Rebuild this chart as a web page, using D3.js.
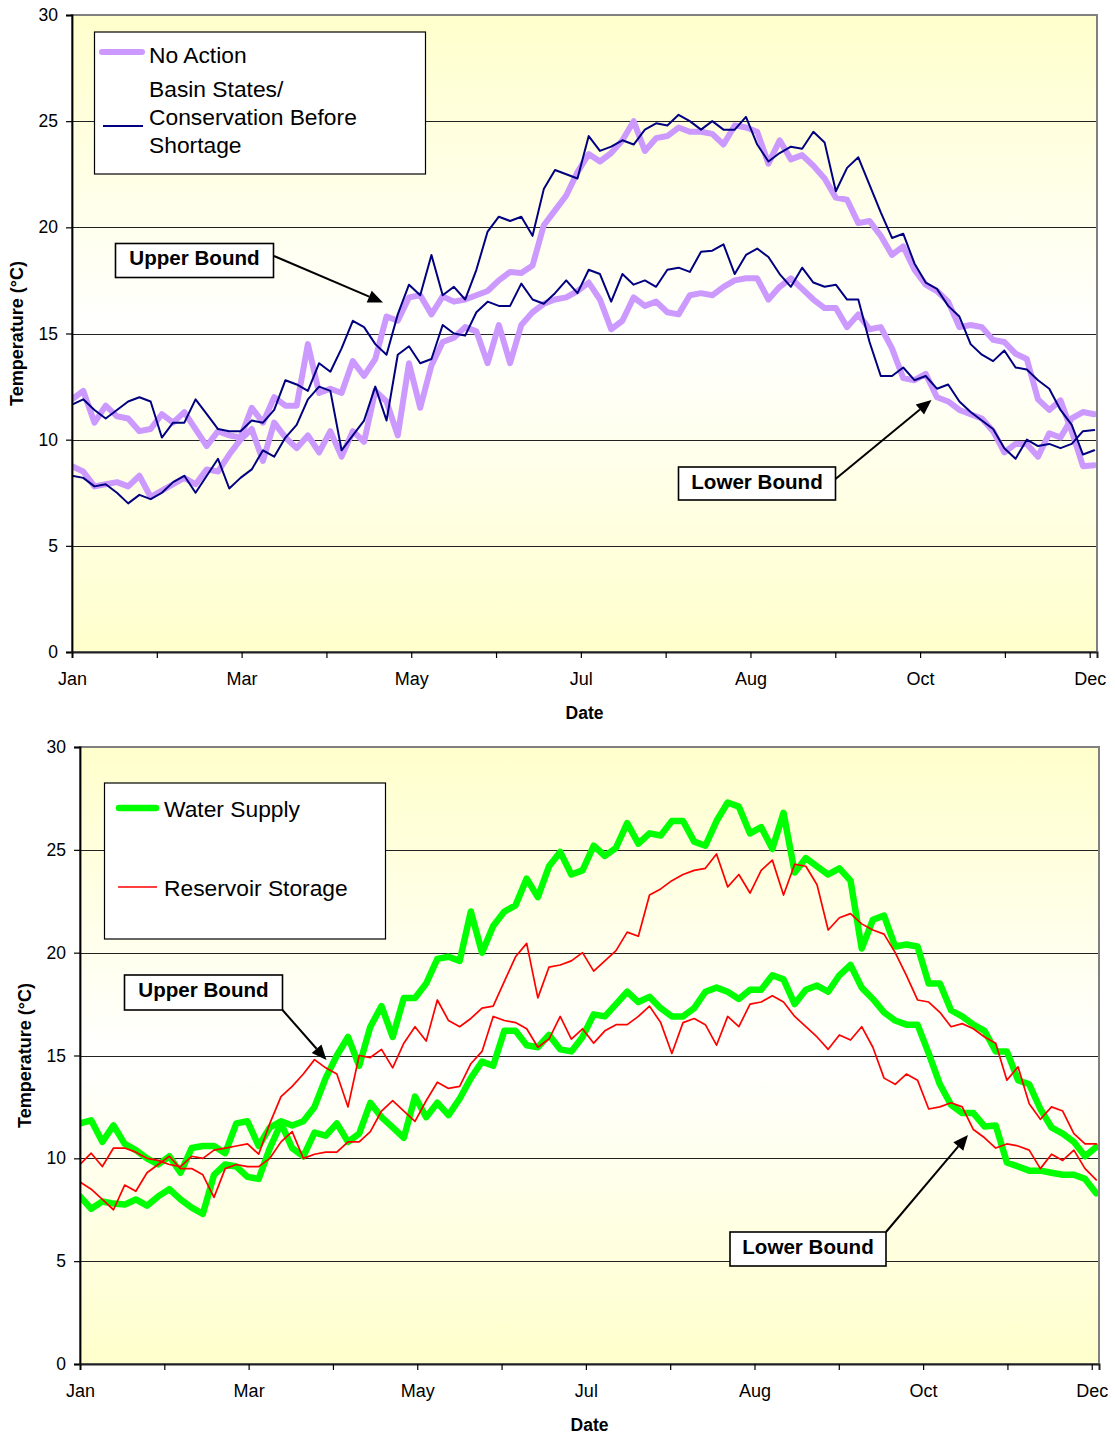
<!DOCTYPE html>
<html><head><meta charset="utf-8">
<script src="https://cdn.jsdelivr.net/npm/d3@7"></script>
<style>
body{margin:0;background:#fff;}
svg{display:block;font-family:"Liberation Sans",Arial,Helvetica,sans-serif;}
</style></head><body>
<svg id="chart" width="1115" height="1435"></svg>
<script>
// ---------------- DATA ----------------
const sampleDays = [0,4,8,12,16,20,24,28,32,36,40,44,48,52,56,60,64,68,72,76,80,84,88,92,96,100,104,108,112,116,120,124,128,132,136,140,144,148,152,156,160,164,168,172,176,180,184,188,192,196,200,204,208,212,216,220,224,228,232,236,240,244,248,252,256,260,264,268,272,276,280,284,288,292,296,300,304,308,312,316,320,324,328,332,336,340,344,348,352,356,360,364];
const xTickLabels = ["Jan","","Mar","","May","","Jul","","Aug","","Oct","","Dec"];
const yTicks = [0,5,10,15,20,25,30];

// Top panel: No Action (upper / lower bound)
const noActionUpper = [11.9,12.3,10.8,11.6,11.1,11.0,10.4,10.5,11.2,10.8,
 11.3,10.5,9.7,10.4,10.2,10.1,11.5,10.8,12.0,11.6,
 11.6,14.5,12.2,12.4,12.2,13.7,13.0,13.8,15.8,15.6,
 16.7,16.8,15.9,16.75,16.5,16.6,16.8,17.0,17.5,17.9,
 17.85,18.2,20.1,20.8,21.5,22.6,23.45,23.1,23.5,24.1,
 25.0,23.6,24.2,24.3,24.7,24.5,24.5,24.4,23.9,24.8,
 24.7,24.5,23.0,24.1,23.2,23.4,22.9,22.3,21.4,21.3,
 20.2,20.3,19.6,18.7,19.1,18.0,17.3,17.0,16.5,15.3,
 15.4,15.3,14.7,14.6,14.05,13.8,11.9,11.4,11.85,10.4,
 8.75,8.8];
const noActionLower = [8.75,8.5,7.8,7.9,8.0,7.8,8.3,7.3,7.6,7.9,
 8.2,7.9,8.6,8.5,9.3,10.0,10.5,9.0,10.8,10.1,
 9.6,10.2,9.4,10.4,9.2,10.4,9.9,12.3,11.8,10.2,
 13.6,11.5,13.5,14.6,14.8,15.3,15.1,13.6,15.4,13.6,
 15.4,16.0,16.4,16.6,16.7,17.0,17.4,16.6,15.2,15.6,
 16.7,16.3,16.5,16.0,15.9,16.8,16.9,16.8,17.2,17.5,
 17.6,17.6,16.6,17.2,17.6,17.1,16.6,16.2,16.2,15.3,
 15.9,15.2,15.3,14.3,12.9,12.8,13.1,12.0,11.8,11.4,
 11.2,11.0,10.4,9.4,9.8,9.8,9.2,10.3,10.1,11.0,
 11.3,11.2];
// Top panel: Basin States / Conservation Before Shortage
const basinStatesUpper = [11.65,11.9,11.4,11.0,11.4,11.8,12.0,11.8,10.1,10.8,
 10.8,11.9,11.2,10.5,10.4,10.4,10.9,10.8,11.4,12.8,
 12.6,12.3,13.6,13.2,14.3,15.6,15.3,14.5,14.0,15.9,
 17.3,16.8,18.7,16.8,17.2,16.6,18.0,19.8,20.5,20.3,
 20.5,19.6,21.8,22.7,22.5,22.3,24.3,23.6,23.8,24.1,
 23.9,24.6,24.9,24.8,25.3,25.0,24.6,25.0,24.6,24.6,
 25.2,23.9,23.1,23.5,23.8,23.7,24.5,24.0,21.7,22.8,
 23.3,22.0,20.7,19.5,19.7,18.3,17.4,17.1,16.3,15.8,
 14.5,14.0,13.7,14.2,13.4,13.3,12.8,12.4,11.4,10.7,
 9.3,9.5];
const basinStatesLower = [8.3,8.2,7.8,7.9,7.5,7.0,7.4,7.2,7.5,8.0,
 8.3,7.5,8.3,9.1,7.7,8.2,8.6,9.5,9.2,10.1,
 10.7,11.9,12.5,12.3,9.5,10.2,10.9,12.5,10.9,14.0,
 14.4,13.6,13.8,15.4,15.0,14.9,16.0,16.5,16.3,16.3,
 17.35,16.6,16.4,16.9,17.5,16.9,18.0,17.8,16.5,17.8,
 17.3,17.5,17.2,18.0,18.1,17.9,18.85,18.9,19.2,17.8,
 18.7,19.0,18.6,17.8,17.2,18.1,17.4,17.2,17.3,16.6,
 16.6,14.6,13.0,13.0,13.4,12.8,13.0,12.4,12.6,11.8,
 11.3,10.9,10.5,9.6,9.1,10.0,9.7,9.8,9.6,9.8,
 10.4,10.45];
// Bottom panel: Water Supply
const waterSupplyUpper = [11.7,11.85,10.8,11.6,10.7,10.4,10.0,9.7,10.1,9.3,
 10.5,10.6,10.6,10.25,11.7,11.8,10.6,11.5,11.8,11.6,
 11.8,12.5,13.9,15.0,15.9,14.5,16.4,17.4,15.9,17.8,
 17.8,18.5,19.7,19.8,19.6,22.0,20.0,21.3,22.0,22.3,
 23.6,22.7,24.2,24.9,23.8,24.0,25.2,24.7,25.1,26.3,
 25.3,25.8,25.7,26.4,26.4,25.4,25.2,26.4,27.3,27.1,
 25.8,26.1,25.05,26.8,23.9,24.6,24.2,23.8,24.1,23.5,
 20.2,21.6,21.8,20.3,20.4,20.3,18.5,18.5,17.2,16.9,
 16.5,16.2,15.2,15.2,13.8,13.6,12.4,11.5,11.2,10.8,
 10.1,10.55];
const waterSupplyLower = [8.15,7.55,7.9,7.8,7.75,8.0,7.7,8.15,8.5,8.0,
 7.6,7.3,9.2,9.7,9.6,9.1,9.0,10.5,11.7,10.5,
 10.1,11.25,11.1,11.7,10.8,11.2,12.7,12.0,11.5,11.0,
 13.0,12.0,12.7,12.1,12.9,13.9,14.7,14.5,16.2,16.2,
 15.5,15.4,16.0,15.3,15.2,15.9,17.0,16.9,17.5,18.1,
 17.6,17.85,17.3,16.9,16.9,17.3,18.1,18.3,18.1,17.75,
 18.2,18.2,18.9,18.7,17.5,18.2,18.4,18.1,18.9,19.4,
 18.3,17.75,17.1,16.7,16.5,16.5,15.1,13.6,12.6,12.2,
 12.2,11.55,11.6,9.8,9.6,9.4,9.4,9.3,9.2,9.2,
 9.0,8.3];
// Bottom panel: Reservoir Storage
const reservoirUpper = [9.7,10.25,9.6,10.5,10.5,10.3,10.0,9.9,9.7,9.6,
 10.1,10.0,10.4,10.5,10.6,10.7,10.2,11.7,13.0,13.5,
 14.1,14.8,14.4,14.1,12.5,15.0,14.9,15.3,14.4,15.6,
 16.4,15.7,17.7,16.7,16.4,16.8,17.3,17.4,18.6,19.8,
 20.45,17.8,19.3,19.4,19.6,20.0,19.1,19.6,20.1,21.0,
 20.8,22.8,23.1,23.5,23.8,24.0,24.1,24.8,23.2,23.8,
 22.9,24.0,24.5,22.8,24.3,24.2,23.3,21.1,21.7,21.9,
 21.4,21.1,20.9,20.0,18.9,17.7,17.6,17.1,16.4,16.55,
 16.3,15.9,15.6,13.8,14.45,12.65,11.9,12.5,12.3,11.2,
 10.7,10.7];
const reservoirLower = [8.85,8.5,8.0,7.5,8.7,8.4,9.3,9.7,10.1,9.5,
 9.5,9.2,8.1,9.5,9.7,9.6,9.6,10.0,10.8,11.3,
 10.0,10.2,10.3,10.3,10.8,10.8,11.3,12.3,12.8,12.3,
 11.8,12.8,13.7,13.4,13.5,14.6,15.2,16.9,16.7,16.6,
 16.3,15.4,15.8,16.9,15.8,16.3,15.6,16.2,16.5,16.5,
 16.9,17.4,16.6,15.1,16.6,16.8,16.5,15.5,16.9,16.4,
 17.5,17.6,17.9,17.6,16.9,16.4,15.9,15.3,16.0,15.75,
 16.4,15.4,13.9,13.6,14.1,13.8,12.4,12.5,12.7,12.5,
 11.4,11.0,10.5,10.7,10.6,10.4,9.5,10.2,9.9,10.4,
 9.5,8.95];

// ---------------- LAYOUT ----------------
const svg = d3.select("#chart");
const FONT = '"Liberation Sans",Arial,Helvetica,sans-serif';
const defs = svg.append("defs");
const grad = defs.append("linearGradient").attr("id","bgGrad")
  .attr("x1",0).attr("y1",0).attr("x2",0).attr("y2",1);
grad.append("stop").attr("offset","0%").attr("stop-color","#FFFFCC");
grad.append("stop").attr("offset","50%").attr("stop-color","#FFFFFF");
grad.append("stop").attr("offset","100%").attr("stop-color","#FFFFCC");

const dayDomain = [0, 365];
const monthTickStep = 30.2;

function arrow(g, x1, y1, x2, y2){
  const ang = Math.atan2(y2-y1, x2-x1);
  const L = 15, W = 6.5;
  const bx = x2 - L*Math.cos(ang), by = y2 - L*Math.sin(ang);
  g.append("line").attr("x1",x1).attr("y1",y1).attr("x2",bx).attr("y2",by)
    .attr("stroke","#000").attr("stroke-width",2);
  const px = -Math.sin(ang), py = Math.cos(ang);
  g.append("path")
    .attr("d",`M${x2},${y2}L${bx+px*W},${by+py*W}L${bx-px*W},${by-py*W}Z`)
    .attr("fill","#000");
}

function panel(cfg){
  const g = svg.append("g");
  const x = d3.scaleLinear().domain(dayDomain).range([cfg.left, cfg.right]);
  const y = d3.scaleLinear().domain([0,30]).range([cfg.bottom, cfg.top]);
  const id = "clip"+cfg.name;
  defs.append("clipPath").attr("id",id).append("rect")
    .attr("x",cfg.left).attr("y",cfg.top)
    .attr("width",cfg.right-cfg.left).attr("height",cfg.bottom-cfg.top);

  g.append("rect").attr("x",cfg.left).attr("y",cfg.top)
    .attr("width",cfg.right-cfg.left).attr("height",cfg.bottom-cfg.top)
    .attr("fill","url(#bgGrad)");

  // gridlines
  g.append("g").selectAll("line").data(yTicks.filter(t=>t>0 && t<30)).join("line")
    .attr("x1",cfg.left).attr("x2",cfg.right)
    .attr("y1",d=>Math.round(y(d))+0.5).attr("y2",d=>Math.round(y(d))+0.5)
    .attr("stroke","#222").attr("stroke-width",1);

  // series
  const line = d3.line().x((d,i)=>x(sampleDays[i])).y(d=>y(d));
  const sg = g.append("g").attr("clip-path",`url(#${id})`);
  cfg.series.forEach(s=>{
    sg.append("path").datum(s.values).attr("d",line)
      .attr("fill","none").attr("stroke",s.color).attr("stroke-width",s.width)
      .attr("stroke-linejoin","round").attr("stroke-linecap","round");
  });

  // frame
  g.append("rect").attr("x",cfg.left).attr("y",cfg.top)
    .attr("width",cfg.right-cfg.left).attr("height",cfg.bottom-cfg.top)
    .attr("fill","none").attr("stroke","#808080").attr("stroke-width",2);

  // y axis
  const ya = g.append("g").attr("transform",`translate(${cfg.left},0)`)
    .call(d3.axisLeft(y).tickValues(yTicks).tickSize(6).tickPadding(8).tickFormat(d3.format("d")));
  ya.select(".domain").attr("stroke","#000").attr("stroke-width",1.8);
  ya.selectAll(".tick line").attr("stroke","#000").attr("stroke-width",1.2);
  ya.selectAll("text").attr("font-family",FONT).attr("font-size",17.5).attr("fill","#000");

  // x axis
  const tickVals = xTickLabels.map((l,i)=>i*monthTickStep);
  const xa = g.append("g").attr("transform",`translate(0,${cfg.bottom})`)
    .call(d3.axisBottom(x).tickValues(tickVals).tickSize(6).tickPadding(14)
      .tickFormat((d,i)=>xTickLabels[i]));
  xa.select(".domain").attr("stroke","#222").attr("stroke-width",2);
  xa.selectAll(".tick line").attr("stroke","#000").attr("stroke-width",1.2);
  xa.selectAll("text").attr("font-family",FONT).attr("font-size",18).attr("fill","#000");

  // titles
  g.append("text").attr("x",(cfg.left+cfg.right)/2).attr("y",cfg.bottom+67)
    .attr("text-anchor","middle").attr("font-family",FONT).attr("font-size",17.5)
    .attr("font-weight","bold").text("Date");
  g.append("text").attr("transform",`translate(${cfg.yTitleX},${(cfg.top+cfg.bottom)/2}) rotate(-90)`)
    .attr("text-anchor","middle").attr("dominant-baseline","central")
    .attr("font-family",FONT).attr("font-size",18).attr("font-weight","bold")
    .text("Temperature (°C)");

  // legend
  const L = cfg.legend;
  g.append("rect").attr("x",L.x).attr("y",L.y).attr("width",L.w).attr("height",L.h)
    .attr("fill","#fff").attr("stroke","#000").attr("stroke-width",1.2);
  L.items.forEach(it=>{
    g.append("line").attr("x1",it.lx1).attr("x2",it.lx2).attr("y1",it.ly).attr("y2",it.ly)
      .attr("stroke",it.color).attr("stroke-width",it.width).attr("stroke-linecap",it.width>3?"round":"butt");
    it.lines.forEach((t,k)=>{
      g.append("text").attr("x",it.tx).attr("y",it.ty[k]).attr("font-family",FONT)
        .attr("font-size",22.8).attr("fill","#000").text(t);
    });
  });

  // annotations
  cfg.notes.forEach(n=>{
    g.append("rect").attr("x",n.x).attr("y",n.y).attr("width",n.w).attr("height",n.h)
      .attr("fill","#fff").attr("stroke","#000").attr("stroke-width",1.6);
    g.append("text").attr("x",n.x+n.w/2).attr("y",n.y+21.5).attr("text-anchor","middle")
      .attr("font-family",FONT).attr("font-size",20.6).attr("font-weight","bold").text(n.text);
    arrow(g, n.a[0], n.a[1], n.a[2], n.a[3]);
  });
}

panel({
  name:"top", left:72, right:1097, top:15, bottom:652, yTitleX:17,
  series:[
    {values:noActionUpper, color:"#CC99FF", width:6},
    {values:noActionLower, color:"#CC99FF", width:6},
    {values:basinStatesUpper, color:"#000080", width:2},
    {values:basinStatesLower, color:"#000080", width:2}
  ],
  legend:{x:94.5, y:32, w:331, h:142, items:[
    {color:"#CC99FF", width:6, lx1:102, lx2:142, ly:52, tx:149, ty:[63], lines:["No Action"]},
    {color:"#000080", width:2, lx1:103, lx2:143, ly:126, tx:149, ty:[97,125,153],
      lines:["Basin States/","Conservation Before","Shortage"]}
  ]},
  notes:[
    {text:"Upper Bound", x:115.5, y:243.5, w:158, h:34, a:[274,256,383,302.5]},
    {text:"Lower Bound", x:678.5, y:467, w:157, h:33, a:[835.5,479,931.5,400]}
  ]
});

panel({
  name:"bottom", left:80, right:1099, top:747, bottom:1364, yTitleX:25,
  series:[
    {values:waterSupplyUpper, color:"#00FF00", width:6.5},
    {values:waterSupplyLower, color:"#00FF00", width:6.5},
    {values:reservoirUpper, color:"#FF0000", width:1.7},
    {values:reservoirLower, color:"#FF0000", width:1.7}
  ],
  legend:{x:104.5, y:783, w:281, h:156, items:[
    {color:"#00FF00", width:6.5, lx1:119, lx2:156, ly:808, tx:164, ty:[817], lines:["Water Supply"]},
    {color:"#FF0000", width:1.7, lx1:118, lx2:157, ly:887, tx:164, ty:[896], lines:["Reservoir Storage"]}
  ]},
  notes:[
    {text:"Upper Bound", x:124.5, y:975, w:158, h:35, a:[282.5,1010,326.5,1060]},
    {text:"Lower Bound", x:730, y:1232, w:156, h:34, a:[886,1232,968,1135]}
  ]
});
</script>
</body></html>
